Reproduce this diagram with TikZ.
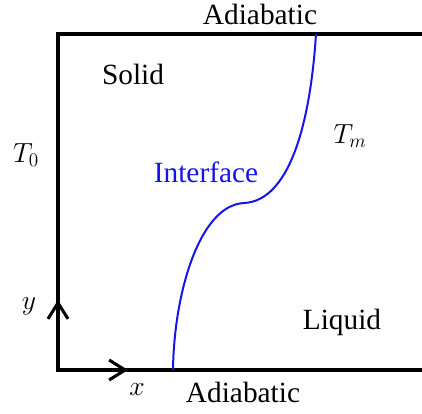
\documentclass[tikz,border=0pt]{standalone}
\usepackage{fontspec}
\setmainfont{Liberation Serif}
\usetikzlibrary{arrows.meta}
\definecolor{iface}{RGB}{20,20,235}

\begin{document}
\begin{tikzpicture}[x=0.75pt,y=-0.75pt,font=\fontsize{22}{26}\selectfont,
  wall/.style={line width=2.3pt,line cap=rect},
  axis/.style={line width=2.3pt,-{Straight Barb[length=12pt,width=15pt]}},
  lbl/.style={inner sep=1pt}]
  \useasboundingbox (0,0) rectangle (422,414);
  % domain corners (pixel grid, y down)
  \def\xL{58}\def\xR{424}\def\yT{34}\def\yB{370}
  % box, the right side runs off the picture
  \draw[wall] (\xR,\yT) -- (\xL,\yT) -- (\xL,\yB) -- (\xR,\yB);
  % coordinate axes
  \coordinate (o) at (\xL,\yB);
  \coordinate (xend) at (128,\yB);
  \coordinate (yend) at (\xL,300);
  \draw[axis] (o) -- (xend);
  \draw[axis] (o) -- (yend);
  % melt front
  \coordinate (fbot) at (173,\yB);
  \coordinate (fmid) at (244,203);
  \coordinate (ftop) at (316,\yT);
  \draw[iface,line width=1.5pt] (fbot) .. controls (174,292) and (200,205) .. (fmid)
    .. controls (288,201) and (310,128) .. (ftop);
  % labels
  \node[lbl] (adtop) at (260,14) {Adiabatic};
  \node[lbl] (adbot) at (243,392) {Adiabatic};
  \node[lbl] (solid) at (133,74) {Solid};
  \node[lbl] (liquid) at (342,322) {Liquid};
  \node[lbl,text=iface] (iflbl) at (206,172) {Interface};
  \node[lbl] (tzero) at (26,155) {$T_0$};
  \node[lbl] (tmelt) at (350,136) {$T_m$};
  \node[lbl] (ylbl) at (29,306) {$y$};
  \node[lbl] (xlbl) at (137,390) {$x$};
\end{tikzpicture}
\end{document}
